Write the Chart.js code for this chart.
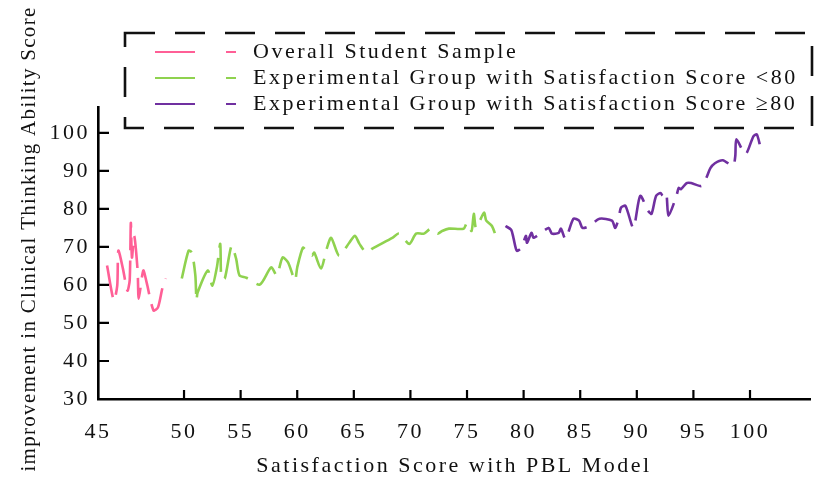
<!DOCTYPE html>
<html>
<head>
<meta charset="utf-8">
<script src="https://cdn.jsdelivr.net/npm/chart.js@4"></script>
<style>
  html, body { margin: 0; padding: 0; background: #fff; }
  canvas { display: block; }
</style>
</head>
<body>
<canvas id="pblChart" width="817" height="479"></canvas>
<script>
// values
const pinkX = [43.2, 43.8, 44.1, 44.2, 44.6, 45.0, 45.2, 45.3, 45.4, 45.6, 45.9, 46.0, 46.4, 46.7, 47.3, 47.7, 48.1, 48.4];
const pinkY = [65.1, 55.9, 59.8, 69.0, 64.3, 58.5, 61.2, 76.3, 67.2, 72.9, 63.8, 56.4, 63.8, 60.6, 53.3, 54.1, 59.3, 61.7];

const greenX = [49.8, 50.4, 50.7, 51.0, 51.1, 51.2, 52.1, 52.5, 52.9, 53.2, 53.3, 53.6, 54.2, 54.6, 54.9, 55.5, 56.7,
  57.7, 58.2, 58.7, 59.2, 59.8, 60.0, 60.5, 60.8, 61.3, 61.5, 62.1, 62.6, 63.0, 63.7, 64.6, 65.1, 65.5, 66.1, 66.6,
  68.4, 69.0, 69.9, 70.5, 71.2, 71.8, 72.4, 72.8, 73.4, 74.7, 75.0, 75.4, 75.6, 75.8, 76.5, 76.7, 77.2, 77.6];
const greenY = [61.7, 69.0, 68.5, 62.5, 55.9, 58.0, 63.8, 59.8, 64.6, 70.8, 61.7, 61.7, 70.3, 66.9, 62.5, 61.9, 60.1,
  64.6, 62.5, 67.2, 65.9, 61.2, 64.6, 69.8, 69.0, 67.7, 68.5, 64.3, 69.5, 72.4, 67.7, 71.1, 72.9, 70.8, 68.5, 69.5,
  72.4, 73.5, 70.8, 73.5, 73.5, 74.8, 73.5, 74.2, 74.8, 74.8, 76.3, 74.2, 78.7, 75.0, 79.0, 76.9, 75.5, 72.4];

const purpleX = [78.4, 78.9, 79.1, 79.4, 79.8, 80.2, 80.3, 80.7, 80.9, 82.2, 82.5, 83.1, 83.3, 83.7, 84.4, 84.9, 85.2,
  85.8, 86.7, 87.8, 88.1, 88.4, 88.6, 89.0, 89.7, 90.3, 91.0, 91.3, 91.7, 92.1, 92.3, 92.6, 92.8, 93.5, 93.7, 93.9,
  94.4, 94.8, 95.7, 96.1, 96.5, 96.9, 97.6, 98.5, 98.7, 98.8, 99.6, 100.3, 100.6, 100.9];
const purpleY = [75.5, 74.5, 72.4, 69.0, 69.8, 72.9, 71.1, 73.7, 72.4, 75.0, 73.5, 73.7, 74.8, 72.1, 77.4, 76.9, 75.0,
  75.5, 77.4, 76.9, 75.0, 77.6, 80.3, 80.8, 75.0, 83.4, 79.5, 78.7, 83.4, 84.2, 83.4, 84.2, 78.2, 83.4, 85.5, 85.2,
  86.8, 86.8, 86.0, 87.9, 90.7, 92.0, 92.8, 91.3, 93.9, 98.3, 94.4, 99.1, 99.6, 96.5];

const seriesNames = [
  "Overall Student Sample",
  "Experimental Group with Satisfaction Score <80",
  "Experimental Group with Satisfaction Score \u226580"
];
const seriesColors = ["#ff5f96", "#8fd24f", "#7030a0"];

// first x tick sits on the axis origin but is labelled 45
const xTickValues = [42.4, 50, 55, 60, 65, 70, 75, 80, 85, 90, 95, 100];
const xTickLabels = ["45", "50", "55", "60", "65", "70", "75", "80", "85", "90", "95", "100"];
const yTickValues = [30, 40, 50, 60, 70, 80, 90, 100];

const xTitle = "Satisfaction Score with PBL Model";
const yTitle = "improvement in Clinical Thinking Ability Score";

const serif = "'Liberation Serif', 'Times New Roman', serif";

function zip(xs, ys) {
  return xs.map((x, i) => ({ x: x, y: ys[i] }));
}

function lineSet(i, xs, ys) {
  return {
    label: seriesNames[i],
    data: zip(xs, ys),
    borderColor: seriesColors[i],
    borderWidth: 2.6,
    borderDash: [32, 10],
    pointRadius: 0,
    tension: 0.25,
    fill: false
  };
}

const spacing = {
  id: "spacing",
  beforeUpdate(chart) { chart.ctx.letterSpacing = "2.5px"; },
  beforeDraw(chart) { chart.ctx.letterSpacing = "2.5px"; }
};

const extras = {
  id: "extras",
  afterDraw(chart) {
    const ctx = chart.ctx;
    const xs = chart.scales.x, ys = chart.scales.y;
    const area = chart.chartArea;

    // inward tick marks
    ctx.save();
    ctx.strokeStyle = "#000";
    ctx.lineWidth = 2.2;
    ctx.beginPath();
    xTickValues.slice(1).forEach(v => {
      const px = xs.getPixelForValue(v);
      ctx.moveTo(px, area.bottom);
      ctx.lineTo(px, area.bottom - 9);
    });
    yTickValues.slice(1).forEach(v => {
      const py = ys.getPixelForValue(v);
      ctx.moveTo(area.left, py);
      ctx.lineTo(area.left + 11, py);
    });
    ctx.stroke();
    ctx.restore();

    // rotated y title
    ctx.save();
    ctx.letterSpacing = "1.3px";
    ctx.fillStyle = "#111";
    ctx.font = "21px " + serif;
    ctx.translate(29, 239);
    ctx.rotate(-Math.PI / 2);
    ctx.textAlign = "center";
    ctx.textBaseline = "middle";
    ctx.fillText(yTitle, 0, 0);
    ctx.restore();

    // dashed legend box
    ctx.save();
    ctx.strokeStyle = "#111";
    ctx.lineWidth = 2.6;
    ctx.setLineDash([30, 20]);
    ctx.strokeRect(125, 33, 687, 95);
    ctx.setLineDash([]);
    ctx.font = "22px " + serif;
    ctx.textBaseline = "middle";
    ctx.fillStyle = "#111";
    chart.data.datasets.forEach((ds, i) => {
      const y = 52 + i * 26;
      ctx.strokeStyle = ds.borderColor;
      ctx.lineWidth = 2;
      ctx.beginPath();
      ctx.moveTo(155, y);
      ctx.lineTo(195, y);
      ctx.moveTo(226, y);
      ctx.lineTo(236, y);
      ctx.stroke();
      ctx.fillText(ds.label, 253, y);
    });
    ctx.restore();
  }
};

new Chart(document.getElementById("pblChart"), {
  type: "line",
  data: {
    datasets: [
      lineSet(0, pinkX, pinkY),
      lineSet(1, greenX, greenY),
      lineSet(2, purpleX, purpleY)
    ]
  },
  options: {
    responsive: false,
    devicePixelRatio: 1,
    animation: false,
    layout: { padding: { top: 107, right: 7, left: 0, bottom: 0 } },
    plugins: { legend: { display: false }, tooltip: { enabled: false } },
    scales: {
      x: {
        type: "linear",
        min: 42.4,
        max: 105.3,
        afterBuildTicks(scale) { scale.ticks = xTickValues.map(v => ({ value: v })); },
        afterFit(scale) { scale.height = 80; },
        grid: { display: false, drawTicks: false },
        border: { display: true, color: "#000", width: 2.6 },
        ticks: {
          autoSkip: false,
          maxRotation: 0,
          padding: 20,
          color: "#111",
          font: { family: serif, size: 22 },
          callback: (v, i) => xTickLabels[i]
        },
        title: {
          display: true,
          text: xTitle,
          color: "#111",
          font: { family: serif, size: 22 },
          padding: { top: 0, bottom: 0 }
        }
      },
      y: {
        min: 30,
        max: 106.8,
        afterBuildTicks(scale) { scale.ticks = yTickValues.map(v => ({ value: v })); },
        afterFit(scale) { scale.width = 98; },
        grid: { display: false, drawTicks: false },
        border: { display: true, color: "#000", width: 2.6 },
        ticks: {
          padding: 8,
          color: "#111",
          font: { family: serif, size: 22 }
        }
      }
    }
  },
  plugins: [spacing, extras]
});
</script>
</body>
</html>
